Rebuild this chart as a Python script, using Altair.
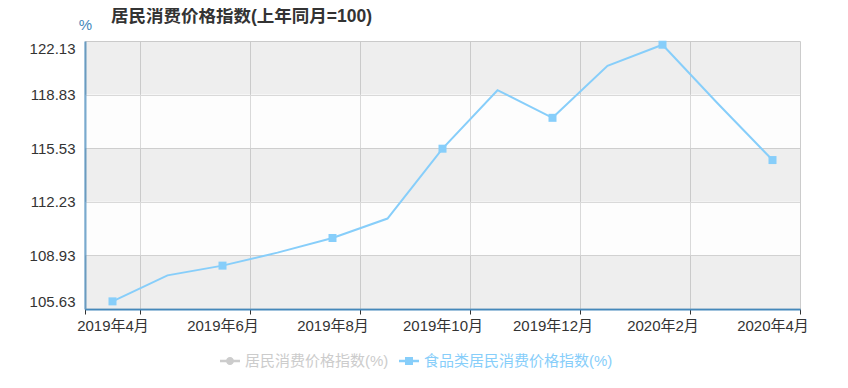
import json
import altair as alt
import pandas as pd

# ---- data ----
months = ["2019年4月", "2019年5月", "2019年6月", "2019年7月", "2019年8月", "2019年9月",
          "2019年10月", "2019年11月", "2019年12月", "2020年1月", "2020年2月", "2020年3月",
          "2020年4月"]
food_cpi = [106.1, 107.7, 108.3, 109.1, 110.0, 111.2, 115.5, 119.1, 117.4, 120.6,
            121.9, 118.3, 114.8]
series_names = ["居民消费价格指数(%)", "食品类居民消费价格指数(%)"]
y_ticks = [105.63, 108.93, 112.23, 115.53, 118.83, 122.13]
title_text = "居民消费价格指数(上年同月=100)"
y_unit = "%"

FONT = "Arial, 'Liberation Sans', 'Noto Sans CJK SC', sans-serif"
AXIS_BLUE = "#4488bb"
LINE_BLUE = "#87cefa"
GREY_OFF = "#cccccc"
GRID = "#cccccc"

n = len(months)
df = pd.DataFrame({"month": months, "value": food_cpi, "series": series_names[1]})
df["order"] = list(range(n))
markers = df[df["order"] % 2 == 0]

bands = pd.DataFrame({"lo": y_ticks[:-1], "hi": y_ticks[1:]})
bands["parity"] = [i % 2 for i in range(len(bands))]

W, H = 715, 268
band_w = W / n

# category axis: ticks/grid on the category boundaries, labels on every other category
boundary_ticks = [-0.5] + [i + 0.5 for i in range(0, n, 2)]
label_expr = ("datum.value < 0 ? '' : " + json.dumps(months, ensure_ascii=False)
              + "[round(datum.value - 0.5)]")

x_scale = alt.Scale(domain=[-0.5, n - 0.5], nice=False, zero=False)
y_scale = alt.Scale(domain=[y_ticks[0], y_ticks[-1]], nice=False, zero=False)

x_axis = alt.Axis(values=boundary_ticks, labelExpr=label_expr, labelOffset=-band_w / 2,
                  labelFlush=False, labelOverlap=False, labelBound=False,
                  title=None, grid=True, gridColor=GRID, domainColor=AXIS_BLUE,
                  domainWidth=2, tickColor="#333", tickSize=5, labelColor="#333",
                  labelFontSize=15, labelFont=FONT, labelPadding=4, labelAngle=0)
y_axis = alt.Axis(values=y_ticks, format=".2f", title=y_unit, titleAngle=0, titleX=0,
                  titleY=-12, titleAlign="center", titleBaseline="alphabetic",
                  titleColor=AXIS_BLUE, titleFontSize=15, titleFontWeight="normal",
                  titleFont=FONT, grid=True, gridColor=GRID, domainColor=AXIS_BLUE,
                  domainWidth=2, ticks=False, tickSize=0, labelPadding=10,
                  labelFlush=True, labelColor="#333", labelFontSize=15, labelFont=FONT)

X = alt.X("order:Q", scale=x_scale, axis=x_axis)
Y = alt.Y("value:Q", scale=y_scale, axis=y_axis)

bg = alt.Chart(bands).mark_rect().encode(
    y=alt.Y("lo:Q", scale=y_scale, axis=y_axis),
    y2="hi:Q",
    fill=alt.condition("datum.parity == 0", alt.value("rgba(200,200,200,0.3)"),
                       alt.value("rgba(250,250,250,0.3)")),
)

line = alt.Chart(df).mark_line(color=LINE_BLUE, strokeWidth=2).encode(
    x=X, y=Y, tooltip=["month:N", "value:Q"])

pts = alt.Chart(markers).mark_point(shape="square", filled=True, size=64, opacity=1,
                                    color=LINE_BLUE).encode(x=X, y=Y)

legend_paths = [
    "M-1,-0.13H1V0.13H-1Z M0.4,0A0.4,0.4 0 1,1 -0.4,0A0.4,0.4 0 1,1 0.4,0Z",
    "M-1,-0.13H1V0.13H-1Z M-0.4,-0.4H0.4V0.4H-0.4Z",
]
label_color_expr = (f"datum.value === '{series_names[0]}' ? '{GREY_OFF}' : '{LINE_BLUE}'")
leg = alt.Legend(orient="none", legendX=135, legendY=310, direction="horizontal",
                 title=None, labelFontSize=15, labelFont=FONT, labelLimit=400,
                 labelOffset=5, columnPadding=10, symbolSize=400, symbolStrokeWidth=0,
                 symbolOpacity=1, labelColor={"expr": label_color_expr})

key = alt.Chart(markers).mark_point(filled=True, opacity=0).encode(
    x=X, y=Y,
    color=alt.Color("series:N", scale=alt.Scale(domain=series_names,
                                                range=[GREY_OFF, LINE_BLUE]), legend=leg),
    shape=alt.Shape("series:N", scale=alt.Scale(domain=series_names, range=legend_paths),
                    legend=leg),
)

chart = alt.layer(bg, line, pts, key).properties(
    width=W, height=H,
    title=alt.Title(title_text, anchor="start", frame="group", dx=26, dy=22, offset=14,
                    fontSize=17.5, fontWeight="bold", color="#333", font=FONT),
    autosize=alt.AutoSizeParams(type="none"),
    padding={"left": 77, "top": 33, "right": 40, "bottom": 71},
).configure_view(strokeWidth=0)

chart.save("out.html", embed_options={"renderer": "svg", "actions": False})
